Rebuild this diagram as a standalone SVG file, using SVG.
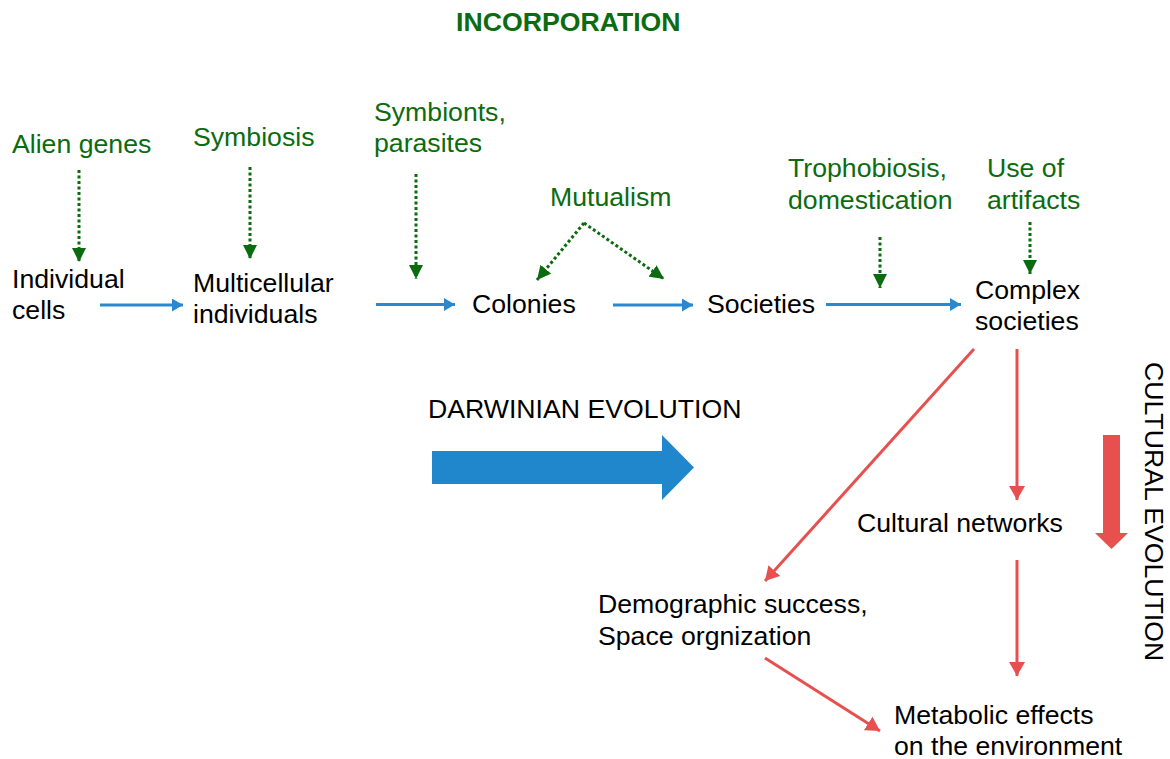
<svg xmlns="http://www.w3.org/2000/svg" width="1170" height="759" viewBox="0 0 1170 759">
<defs>
<style>
text{font-family:"Liberation Sans",Arial,sans-serif;font-size:26.67px;fill:#000}
.g{fill:#0b6b0f}
.title{font-weight:bold;fill:#0b6b0f}
.dot{stroke:#0b6b0f;stroke-width:3;stroke-dasharray:3 2.5;fill:none}
.blue{stroke:#2a88d0;stroke-width:3;fill:none}
.red{stroke:#e84f4f;stroke-width:3;fill:none}
</style>
<marker id="mg" viewBox="0 0 10 10" refX="10" refY="5" markerUnits="userSpaceOnUse" markerWidth="14" markerHeight="14" orient="auto"><path d="M0,0 L10,5 L0,10 z" fill="#0b6b0f"/></marker>
<marker id="mb" viewBox="0 0 10 10" refX="10" refY="5" markerUnits="userSpaceOnUse" markerWidth="11" markerHeight="13" orient="auto" preserveAspectRatio="none"><path d="M0,0 L10,5 L0,10 z" fill="#2a88d0"/></marker>
<marker id="mr" viewBox="0 0 10 10" refX="10" refY="5" markerUnits="userSpaceOnUse" markerWidth="14" markerHeight="16" orient="auto" preserveAspectRatio="none"><path d="M0,0 L10,5 L0,10 z" fill="#e84f4f"/></marker>
</defs>
<rect width="1170" height="759" fill="#fff"/>

<g id="title"><text class="title" x="456" y="31">INCORPORATION</text></g>

<g id="alien-genes"><text class="g" x="12" y="153">Alien genes</text></g>
<g id="symbiosis"><text class="g" x="193" y="146">Symbiosis</text></g>
<g id="symbionts"><text class="g" x="374" y="121">Symbionts,</text><text class="g" x="374" y="152">parasites</text></g>
<g id="mutualism"><text class="g" x="550" y="206">Mutualism</text></g>
<g id="trophobiosis"><text class="g" x="788" y="177">Trophobiosis,</text><text class="g" x="788" y="209">domestication</text></g>
<g id="artifacts"><text class="g" x="987" y="177">Use of</text><text class="g" x="987" y="209">artifacts</text></g>

<g id="individual-cells"><text x="12" y="288">Individual</text><text x="12" y="319">cells</text></g>
<g id="multicellular"><text x="193" y="292">Multicellular</text><text x="193" y="323">individuals</text></g>
<g id="colonies"><text x="472" y="313">Colonies</text></g>
<g id="societies"><text x="707" y="313">Societies</text></g>
<g id="complex-societies"><text x="975" y="299">Complex</text><text x="975" y="330">societies</text></g>

<g id="darwinian"><text x="428" y="418">DARWINIAN EVOLUTION</text>
<path d="M432,451 H662 V435 L694,467.5 L662,500 V484 H432 Z" fill="#2187cd"/></g>

<g id="cultural-evolution"><text transform="translate(1145,362) rotate(90)">CULTURAL EVOLUTION</text>
<path d="M1103,435 H1120 V533 H1128 L1111.5,549 L1095,533 H1103 Z" fill="#e84f4f"/></g>

<g id="cultural-networks"><text x="857" y="532">Cultural networks</text></g>
<g id="demographic"><text x="598" y="613">Demographic success,</text><text x="598" y="645">Space orgnization</text></g>
<g id="metabolic"><text x="894" y="724">Metabolic effects</text><text x="894" y="755">on the environment</text></g>

<g id="connectors">
<line class="dot" x1="79" y1="170" x2="79" y2="262" marker-end="url(#mg)"/>
<line class="dot" x1="250" y1="167" x2="250" y2="259" marker-end="url(#mg)"/>
<line class="dot" x1="416" y1="174" x2="416" y2="279" marker-end="url(#mg)"/>
<line class="dot" x1="584" y1="223" x2="537" y2="280" marker-end="url(#mg)"/>
<line class="dot" x1="584" y1="223" x2="664" y2="279" marker-end="url(#mg)"/>
<line class="dot" x1="880" y1="237" x2="880" y2="288" marker-end="url(#mg)"/>
<line class="dot" x1="1030" y1="222" x2="1030" y2="274" marker-end="url(#mg)"/>

<line class="blue" x1="100" y1="305" x2="183" y2="305" marker-end="url(#mb)"/>
<line class="blue" x1="376" y1="304.5" x2="455" y2="304.5" marker-end="url(#mb)"/>
<line class="blue" x1="613" y1="305" x2="693" y2="305" marker-end="url(#mb)"/>
<line class="blue" x1="826" y1="304.5" x2="961" y2="304.5" marker-end="url(#mb)"/>

<line class="red" x1="974" y1="349" x2="765" y2="581" marker-end="url(#mr)"/>
<line class="red" x1="1017" y1="349" x2="1017" y2="500" marker-end="url(#mr)"/>
<line class="red" x1="1017" y1="560" x2="1017" y2="676" marker-end="url(#mr)"/>
<line class="red" x1="765" y1="658" x2="880" y2="731" marker-end="url(#mr)"/>
</g>
</svg>
